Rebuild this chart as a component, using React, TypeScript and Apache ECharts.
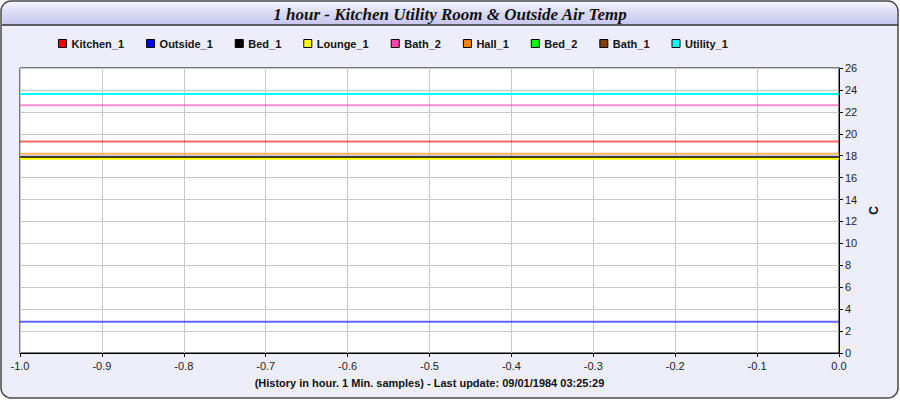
import React, { useEffect, useRef } from "react";
import * as echarts from "echarts";

const titleText = "1 hour - Kitchen Utility Room & Outside Air Temp";
const xAxisName = "(History in hour. 1 Min. samples) - Last update: 09/01/1984 03:25:29";
const yAxisName = "C";

const hours = [-1.0, -0.9, -0.8, -0.7, -0.6, -0.5, -0.4, -0.3, -0.2, -0.1, 0.0];

const seriesNames = ["Kitchen_1", "Outside_1", "Bed_1", "Lounge_1", "Bath_2", "Hall_1", "Bed_2", "Bath_1", "Utility_1"];
const seriesColors = ["#ff0000", "#0000ff", "#000000", "#ffff00", "#ff44aa", "#ff8000", "#00ff00", "#804000", "#00ffff"];

const kitchen1 = [19.3, 19.3, 19.3, 19.3, 19.3, 19.3, 19.3, 19.3, 19.3, 19.3, 19.3];
const outside1 = [2.85, 2.85, 2.85, 2.85, 2.85, 2.85, 2.85, 2.85, 2.85, 2.85, 2.85];
const bed1 = [17.85, 17.85, 17.85, 17.85, 17.85, 17.85, 17.85, 17.85, 17.85, 17.85, 17.85];
const lounge1 = [17.72, 17.72, 17.72, 17.72, 17.72, 17.72, 17.72, 17.72, 17.72, 17.72, 17.72];
const bath2 = [22.6, 22.6, 22.6, 22.6, 22.6, 22.6, 22.6, 22.6, 22.6, 22.6, 22.6];
const hall1 = [18.17, 18.17, 18.17, 18.17, 18.17, 18.17, 18.17, 18.17, 18.17, 18.17, 18.17];
const bed2: number[] = [];
const bath1: number[] = [];
const utility1 = [23.62, 23.62, 23.62, 23.62, 23.62, 23.62, 23.62, 23.62, 23.62, 23.62, 23.62];

const seriesValues = [kitchen1, outside1, bed1, lounge1, bath2, hall1, bed2, bath1, utility1];
const lineOpacity = [0.6, 0.6, 1, 1, 0.6, 0.6, 0.6, 0.6, 1];

export default function App() {
  const ref = useRef<HTMLDivElement>(null);
  useEffect(() => {
    if (!ref.current) return;
    const chart = echarts.init(ref.current, null, { renderer: "svg" });
    const font = "'Liberation Sans', Arial, sans-serif";
    chart.setOption({
      animation: false,
      backgroundColor: "#ffffff",
      textStyle: { fontFamily: font },
      graphic: [
        {
          type: "rect",
          z: -10,
          silent: true,
          shape: { x: 1, y: 1, width: 897, height: 397, r: 10 },
          style: { fill: "#eeeefb", stroke: "#4a4a4a", lineWidth: 1.5 },
        },
        {
          type: "rect",
          z: -9,
          silent: true,
          shape: { x: 2, y: 2, width: 895, height: 23, r: [9, 9, 0, 0] },
          style: {
            fill: new echarts.graphic.LinearGradient(0, 0, 0, 1, [
              { offset: 0, color: "#f6f6ff" },
              { offset: 0.45, color: "#dcdcf7" },
              { offset: 1, color: "#c6c6ef" },
            ]),
          },
        },
        {
          type: "line",
          z: -8,
          silent: true,
          shape: { x1: 2, y1: 25, x2: 898, y2: 25 },
          style: { stroke: "#333333", lineWidth: 1.5 },
        },
        {
          type: "text",
          z: 5,
          silent: true,
          x: 450,
          y: 14,
          style: {
            text: titleText,
            fill: "#111111",
            font: "italic bold 17px 'Liberation Serif', 'DejaVu Serif', serif",
            align: "center",
            verticalAlign: "middle",
          },
        },
      ],
      legend: {
        left: 53,
        top: 33,
        itemWidth: 8,
        itemHeight: 8,
        itemGap: 22,
        icon: "rect",
        itemStyle: { borderColor: "#000000", borderWidth: 1 },
        textStyle: { fontSize: 11, fontWeight: "bold", color: "#111111", fontFamily: font },
        data: seriesNames,
      },
      grid: {
        left: 20,
        right: 61,
        top: 68,
        bottom: 47,
        show: true,
        backgroundColor: "#ffffff",
        borderColor: "#000000",
        borderWidth: 1,
      },
      xAxis: {
        type: "value",
        min: -1,
        max: 0,
        interval: 0.1,
        name: xAxisName,
        nameLocation: "middle",
        nameGap: 24,
        nameTextStyle: { fontSize: 11, fontWeight: "bold", color: "#111111", fontFamily: font },
        axisLine: { show: true, lineStyle: { color: "#000000", width: 1 } },
        axisTick: { show: true, length: 4, lineStyle: { color: "#000000" } },
        axisLabel: {
          fontSize: 11,
          color: "#222222",
          margin: 7,
          formatter: (v: number) => v.toFixed(1),
        },
        splitLine: { show: true, lineStyle: { color: "#c8c8c8", width: 1 } },
      },
      yAxis: {
        type: "value",
        position: "right",
        min: 0,
        max: 26,
        interval: 2,
        name: yAxisName,
        nameLocation: "middle",
        nameGap: 24,
        nameRotate: 90,
        nameTextStyle: { fontSize: 12, fontWeight: "bold", color: "#111111", fontFamily: font },
        axisLine: { show: true, lineStyle: { color: "#000000", width: 1 } },
        axisTick: { show: true, length: 4, lineStyle: { color: "#000000" } },
        axisLabel: { fontSize: 11, color: "#222222", margin: 6 },
        splitLine: { show: true, lineStyle: { color: "#c8c8c8", width: 1 } },
      },
      series: seriesNames.map((name, i) => ({
        name,
        type: "line",
        showSymbol: false,
        symbol: "none",
        color: seriesColors[i],
        itemStyle: { color: seriesColors[i] },
        lineStyle: { color: seriesColors[i], width: 2, opacity: lineOpacity[i] },
        data: seriesValues[i].map((v, j) => [hours[j], v]),
      })),
    });
    return () => chart.dispose();
  }, []);
  return (
    <div
      ref={ref}
      style={{ position: "absolute", left: 0, top: 0, width: 900, height: 400 }}
    />
  );
}
